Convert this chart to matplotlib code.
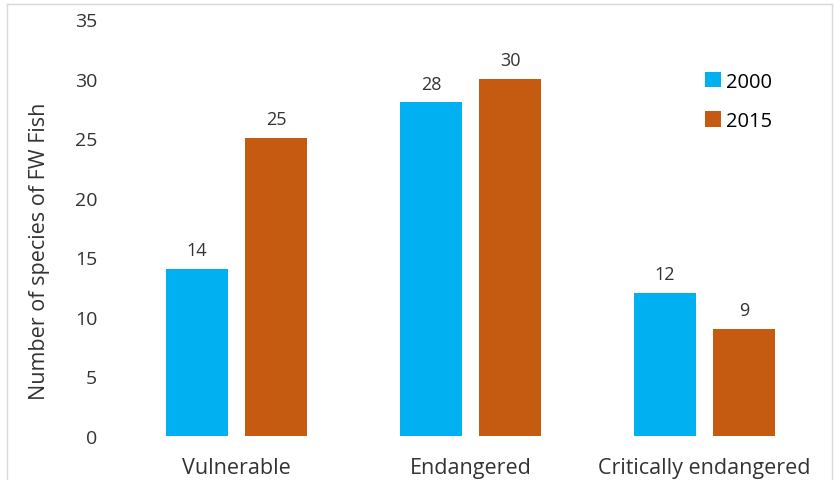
import numpy as np
import matplotlib.pyplot as plt
from matplotlib.lines import Line2D

# IUCN status counts for freshwater fish species
categories = ["Vulnerable", "Endangered", "Critically endangered"]
years = ["2000", "2015"]
counts_2000 = [14, 28, 12]
counts_2015 = [25, 30, 9]

colors = {"2000": "#00B0F0", "2015": "#C55A11"}

plt.rcParams['font.family'] = ['Open Sans', 'DejaVu Sans']

fig = plt.figure(figsize=(8.34, 4.81), dpi=100)
ax = fig.add_axes([0.1433, 0.0915, 0.8417, 0.8669])

x = np.arange(len(categories))
width = 0.265
offset = 0.169

bars_a = ax.bar(x - offset, counts_2000, width, color=colors["2000"], label="2000")
bars_b = ax.bar(x + offset, counts_2015, width, color=colors["2015"], label="2015")

for bars in (bars_a, bars_b):
    for b in bars:
        ax.annotate(f"{int(b.get_height())}", (b.get_x() + b.get_width() / 2, b.get_height()),
                    xytext=(0, 7), textcoords="offset points", ha="center", va="bottom",
                    fontsize=13, color="#333333")

ax.set_xlim(-0.5, 2.5)
ax.set_ylim(0, 35)
ax.set_yticks(range(0, 36, 5))
ax.set_xticks(x)
ax.set_xticklabels(categories)
ax.tick_params(axis="y", length=0, labelsize=14, colors="#333333", pad=16)
ax.tick_params(axis="x", length=0, labelsize=15.5, colors="#333333", pad=15)
for s in ax.spines.values():
    s.set_visible(False)

ax.set_ylabel("Number of species of FW Fish", fontsize=15.5, color="#333333")
ax.yaxis.set_label_coords(-0.099, 0.445)

ax.legend(loc="upper left", bbox_to_anchor=(0.823, 0.893), frameon=False,
          handlelength=0.8, handleheight=0.8, handletextpad=0.25,
          labelspacing=0.95, fontsize=14.5, borderaxespad=0)

# light frame around the chart area
frame_color = "#d9d9d9"
fig.add_artist(Line2D([7 / 834, 832 / 834], [1 - 5 / 481, 1 - 5 / 481], color=frame_color, lw=1))
fig.add_artist(Line2D([7 / 834, 7 / 834], [1 - 5 / 481, 0], color=frame_color, lw=1))
fig.add_artist(Line2D([832 / 834, 832 / 834], [1 - 5 / 481, 0], color=frame_color, lw=1))

fig.savefig("out.png", dpi=100)
